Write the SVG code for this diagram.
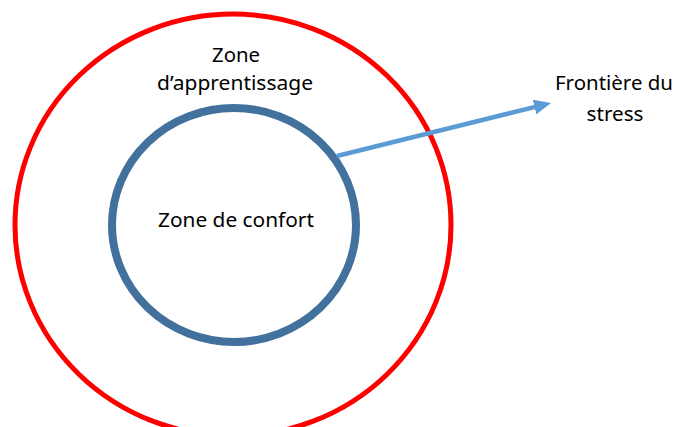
<svg xmlns="http://www.w3.org/2000/svg" width="676" height="427" viewBox="0 0 676 427">
<style>
text{font-family:"Noto Sans","Open Sans","Liberation Sans",sans-serif;font-size:20px;fill:#000;text-anchor:middle}
.ring{fill:none}
</style>
<defs>
<marker id="ah" markerWidth="17" markerHeight="15" refX="7" refY="7.5" orient="auto" markerUnits="userSpaceOnUse" viewBox="0 0 17 15">
<path d="M0,0 L17,7.5 L0,15 Z" fill="#5B9BD5"/>
</marker>
</defs>
<rect width="676" height="427" fill="#fff"/>
<g id="learning-zone">
<ellipse class="ring" cx="233" cy="225" rx="218" ry="211" stroke="#FF0000" stroke-width="5"/>
<text x="236" y="62" textLength="48" lengthAdjust="spacingAndGlyphs">Zone</text>
<text x="235" y="90" textLength="156" lengthAdjust="spacingAndGlyphs">d’apprentissage</text>
</g>
<g id="comfort-zone">
<ellipse class="ring" cx="234" cy="225" rx="122" ry="117" stroke="#41719C" stroke-width="8"/>
<text x="236" y="227" textLength="156" lengthAdjust="spacingAndGlyphs">Zone de confort</text>
</g>
<g id="stress-frontier">
<text x="614" y="90" textLength="118" lengthAdjust="spacingAndGlyphs">Frontière du</text>
<text x="615" y="121" textLength="57" lengthAdjust="spacingAndGlyphs">stress</text>
</g>
<g id="connectors">
<line x1="337" y1="156" x2="541.3" y2="105.4" stroke="#5B9BD5" stroke-width="4.5" marker-end="url(#ah)"/>
</g>
</svg>
